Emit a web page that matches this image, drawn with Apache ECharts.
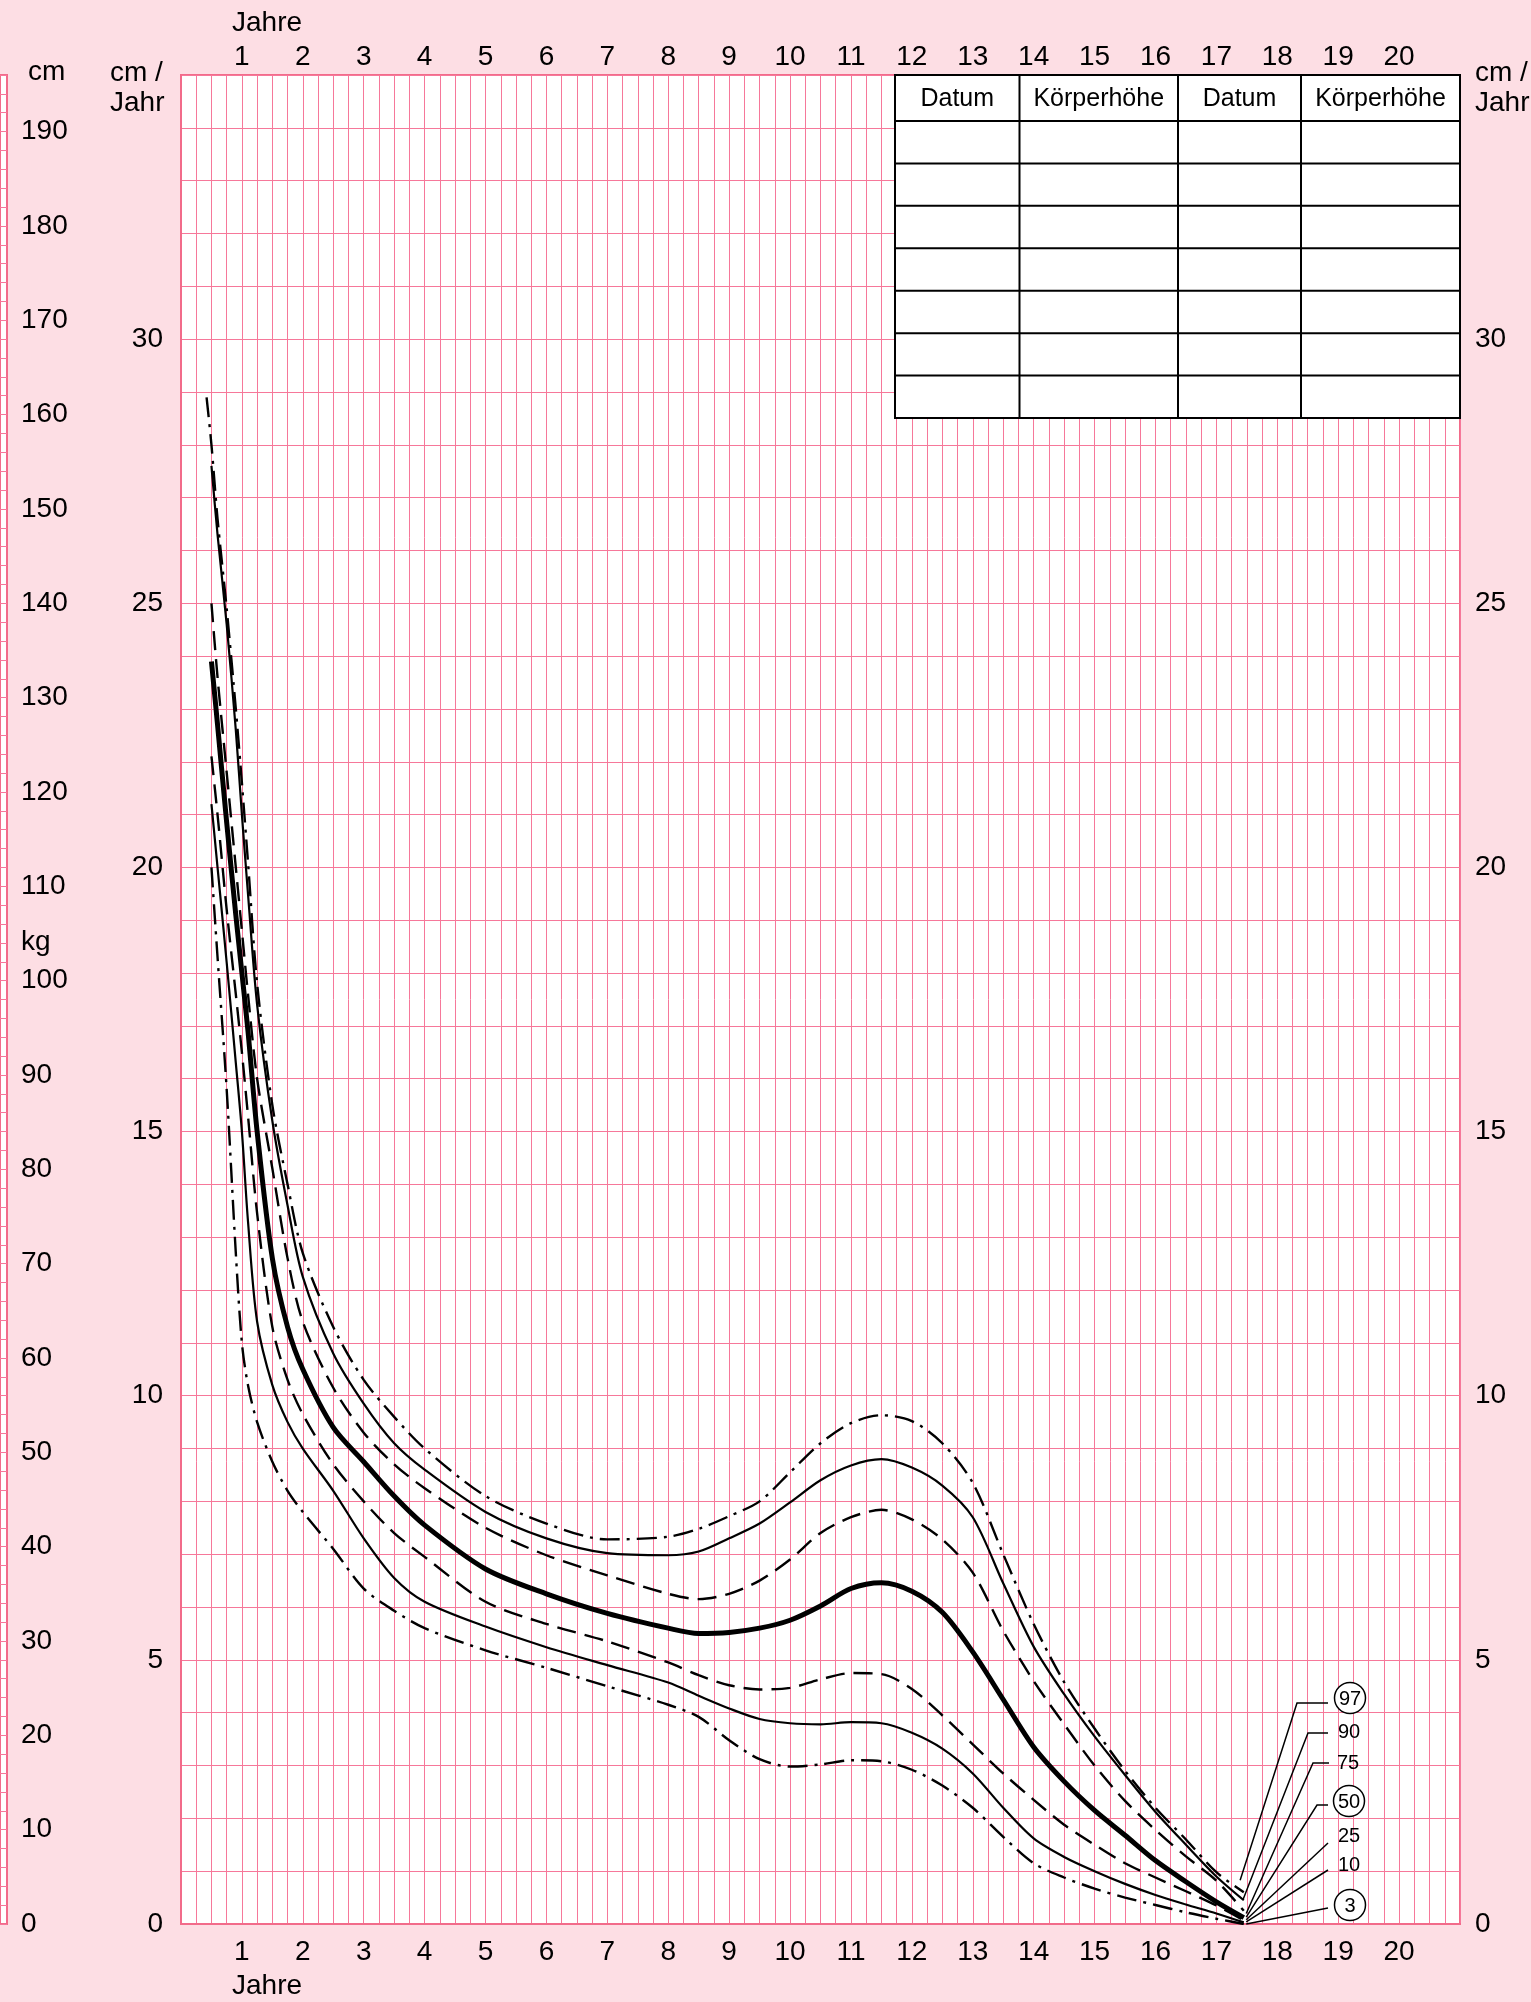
<!DOCTYPE html>
<html><head><meta charset="utf-8">
<script src="https://cdn.jsdelivr.net/npm/echarts@6/dist/echarts.min.js"></script>
<style>html,body{margin:0;padding:0;background:#FDDEE4;}#c{width:1531px;height:2002px;}</style>
</head><body><div id="c"></div>
<script>
// ---- data (age in years, height velocity in cm/Jahr) ----
const ages = [0.42,0.5,0.6,0.75,0.9, 1,1.1,1.25,1.5,1.75, 2,2.5,3,3.5,4, 5,6,7,8,8.5, 9,9.5,10,10.5,11, 11.5,12,12.5,13,13.5, 14,14.5,15,15.5,16, 16.5,17,17.45];
const p97 = [28.9,28.0,26.6,24.9,23.0, 21.6,20.1,17.8,15.5,14.0, 12.7,11.3,10.3,9.6,9.0, 8.1,7.58,7.28,7.33,7.48, 7.72,8.0,8.55,9.1,9.48, 9.63,9.52,9.1,8.35,7.0, 5.68,4.58,3.7,2.9,2.2, 1.6,0.98,0.6];
const p90 = [null,27.6,26.3,24.6,22.6, 21.0,19.5,17.4,15.2,13.6, 12.25,10.8,9.85,9.1,8.6, 7.8,7.3,7.02,6.98,7.05, 7.3,7.58,7.98,8.4,8.68, 8.8,8.64,8.3,7.7,6.45, 5.25,4.35,3.55,2.82,2.12, 1.5,0.9,0.45];
const p75 = [null,25.0,23.6,21.8,20.0, 18.8,17.6,16.0,14.3,12.6, 11.4,10.15,9.3,8.7,8.25, 7.5,6.98,6.6,6.25,6.15, 6.25,6.5,6.9,7.4,7.7, 7.84,7.66,7.28,6.65,5.55, 4.6,3.78,3.0,2.33,1.78, 1.28,0.82,0.25];
const p50 = [null,23.9,22.7,20.85,19.1, 18.0,16.9,15.0,12.6,11.3, 10.5,9.4,8.75,8.1,7.55, 6.72,6.25,5.88,5.6,5.5, 5.52,5.6,5.75,6.02,6.35, 6.46,6.3,5.9,5.15,4.25, 3.35,2.7,2.15,1.68,1.2, 0.8,0.42,0.12];
const p25 = [null,22.1,21.0,19.2,17.6, 16.5,15.3,13.45,11.3,10.3, 9.65,8.7,8.0,7.4,6.95, 6.1,5.68,5.35,4.95,4.71, 4.52,4.44,4.47,4.63,4.75, 4.73,4.45,3.95,3.4,2.85, 2.35,1.88,1.5,1.15,0.88, 0.62,0.35,0.07];
const p10 = [null,21.2,20.0,18.2,16.3, 15.0,13.3,11.4,10.2,9.5, 9.0,8.2,7.3,6.55,6.1, 5.63,5.24,4.9,4.57,4.32, 4.08,3.88,3.8,3.78,3.82, 3.8,3.62,3.32,2.85,2.2, 1.62,1.27,1.0,0.76,0.55, 0.37,0.2,0.03];
const p3  = [null,20.0,18.3,15.8,12.7, 11.0,10.2,9.5,8.75,8.2, 7.8,7.1,6.35,5.93,5.6, 5.18,4.85,4.5,4.15,3.92, 3.48,3.12,2.98,3.02,3.1, 3.08,2.92,2.62,2.2,1.65, 1.15,0.88,0.67,0.5,0.36, 0.22,0.1,0.0];
const percentiles = ['97','90','75','50','25','10','3'];
const xTickLabels = [1,2,3,4,5,6,7,8,9,10,11,12,13,14,15,16,17,18,19,20];
const yTickLabels = [0,5,10,15,20,25,30];
const cmTickLabels = [0,10,20,30,40,50,60,70,80,90,100,110,120,130,140,150,160,170,180,190];
const tableHeader = ['Datum','Körperhöhe','Datum','Körperhöhe'];
const tableRows = 7;
// leader-line anchor points on the curves (age, cm/Jahr)
const leaderTargets = [[17.39,0.83],[17.44,0.47],[17.49,0.2],[17.49,0.13],[17.49,0.08],[17.49,0.04],[17.49,0.0]];

// ---- styling ----
const FONT = 'Liberation Sans, Arial, sans-serif';
const BG = '#FDDEE4';
const GRIDC = '#F6789A';
const BORDERC = '#F26B8A';
const styles = {
  '97': {type:[20,7,3,7], width:2.4},
  '90': {type:'solid', width:2.2},
  '75': {type:[19,9], width:2.4},
  '50': {type:'solid', width:5},
  '25': {type:[19,9], width:2.4},
  '10': {type:'solid', width:2.2},
  '3':  {type:[20,7,3,7], width:2.4}
};
const seriesVals = {'97':p97,'90':p90,'75':p75,'50':p50,'25':p25,'10':p10,'3':p3};

const chart = echarts.init(document.getElementById('c'), null, {renderer:'canvas'});

const G = {left:181, top:75, width:1279, height:1849};

const series = percentiles.map(p => ({
  name: p, type: 'line', xAxisIndex: 0, yAxisIndex: 0,
  data: ages.map((a,i)=> seriesVals[p][i]==null ? null : [a, seriesVals[p][i]]).filter(d=>d),
  showSymbol: false, smooth: 0.3,
  lineStyle: {color:'#000', width: styles[p].width, type: styles[p].type},
  z: 5, silent: true, animation: false
}));

const option = {
  backgroundColor: BG,
  animation: false,
  textStyle: {fontFamily: FONT},
  grid: [
    {left:G.left, top:G.top, width:G.width, height:G.height, show:true, backgroundColor:'#fff', borderColor:BORDERC, borderWidth:2, containLabel:false},
    {left:-10, top:G.top, width:17, height:G.height, show:true, backgroundColor:'#fff', borderColor:BORDERC, borderWidth:2, containLabel:false}
  ],
  xAxis: [
    {gridIndex:0, type:'value', min:0, max:21, interval:0.25, position:'bottom',
     axisLine:{show:true, lineStyle:{color:BORDERC, width:2}}, axisTick:{show:false},
     splitLine:{show:true, lineStyle:{color:GRIDC, width:1}},
     axisLabel:{margin:14, color:'#000', fontSize:28, fontFamily:FONT,
       formatter: v => xTickLabels.includes(v) ? String(v) : ''}},
    {gridIndex:0, type:'value', min:0, max:21, interval:0.25, position:'top',
     axisLine:{show:true, lineStyle:{color:BORDERC, width:2}}, axisTick:{show:false},
     splitLine:{show:false},
     axisLabel:{margin:4, color:'#000', fontSize:28, fontFamily:FONT,
       formatter: v => xTickLabels.includes(v) ? String(v) : ''}},
    {gridIndex:1, type:'value', min:0, max:1, show:false}
  ],
  yAxis: [
    {gridIndex:0, type:'value', min:0, max:35, interval:1, position:'left',
     axisLine:{show:true, lineStyle:{color:BORDERC, width:2}}, axisTick:{show:false},
     splitLine:{show:true, lineStyle:{color:GRIDC, width:1}},
     axisLabel:{margin:18, color:'#000', fontSize:28, fontFamily:FONT,
       formatter: v => yTickLabels.includes(v) ? String(v) : ''}},
    {gridIndex:0, type:'value', min:0, max:35, interval:1, position:'right',
     axisLine:{show:true, lineStyle:{color:BORDERC, width:2}}, axisTick:{show:false},
     splitLine:{show:false},
     axisLabel:{margin:15, color:'#000', fontSize:28, fontFamily:FONT,
       formatter: v => yTickLabels.includes(v) ? String(v) : ''}},
    {gridIndex:1, type:'value', min:0, max:196, interval:2, position:'right',
     axisLine:{show:false}, axisTick:{show:false},
     splitLine:{show:true, lineStyle:{color:GRIDC, width:1}},
     axisLabel:{margin:14, color:'#000', fontSize:28, fontFamily:FONT, align:'left',
       formatter: v => cmTickLabels.includes(v) ? String(v) : ''}}
  ],
  series: series
};
chart.setOption(option);

// ---- graphic annotations: titles, table, percentile labels ----
const g = [];
function txt(x, y, s, size, align, vAlign){
  g.push({type:'text', x:x, y:y, z:20, style:{text:s, fill:'#000', font: size+'px '+FONT, align:align||'left', verticalAlign:vAlign||'middle'}});
}
txt(232, 23, 'Jahre', 28);
txt(232, 1986, 'Jahre', 28);
txt(110, 73, 'cm /', 28); txt(110, 103, 'Jahr', 28);
txt(1475, 73, 'cm /', 28); txt(1475, 103, 'Jahr', 28);
txt(28, 72, 'cm', 28);
txt(21, 942, 'kg', 28);

// table
const colX = [895, 1019.5, 1178, 1301, 1460];
const rowY = [75, 121];
for (let i=1;i<=tableRows;i++) rowY.push(121 + i*(418-121)/tableRows);
g.push({type:'rect', z:15, shape:{x:colX[0], y:rowY[0], width:colX[4]-colX[0], height:rowY[rowY.length-1]-rowY[0]}, style:{fill:'#fff', stroke:'#000', lineWidth:2}});
for (let i=1;i<colX.length-1;i++) g.push({type:'line', z:16, shape:{x1:colX[i], y1:rowY[0], x2:colX[i], y2:rowY[rowY.length-1]}, style:{stroke:'#000', lineWidth:2}});
for (let j=1;j<rowY.length-1;j++) g.push({type:'line', z:16, shape:{x1:colX[0], y1:rowY[j], x2:colX[4], y2:rowY[j]}, style:{stroke:'#000', lineWidth:2}});
tableHeader.forEach((h,i)=> txt((colX[i]+colX[i+1])/2, (rowY[0]+rowY[1])/2+1, h, 25, 'center'));

// percentile labels with leader lines
const labelLayout = [
  {p:'97', lx:1350, ly:1698, circle:true, pts:[[1328,1703],[1297,1703]]},
  {p:'90', lx:1349, ly:1731, circle:false, pts:[[1328,1733],[1308,1733]]},
  {p:'75', lx:1348, ly:1762, circle:false, pts:[[1329,1763],[1313,1763]]},
  {p:'50', lx:1349, ly:1801, circle:true, pts:[[1328,1805],[1317,1805]]},
  {p:'25', lx:1349, ly:1835, circle:false, pts:[[1328,1843]]},
  {p:'10', lx:1349, ly:1864, circle:false, pts:[[1328,1870]]},
  {p:'3',  lx:1350, ly:1905, circle:true, pts:[[1328,1908]]}
];
labelLayout.forEach((L, i) => {
  const t = chart.convertToPixel({xAxisIndex:0, yAxisIndex:0}, leaderTargets[i]);
  g.push({type:'polyline', z:18, shape:{points: L.pts.concat([t])}, style:{stroke:'#000', lineWidth:1.5, fill:null}});
  if (L.circle) g.push({type:'circle', z:18, shape:{cx:L.lx, cy:L.ly, r:15.5}, style:{fill:'#fff', stroke:'#000', lineWidth:1.5}});
  txt(L.lx, L.ly+1, L.p, 20, 'center');
});

chart.setOption({graphic: g});
</script>
</body></html>
